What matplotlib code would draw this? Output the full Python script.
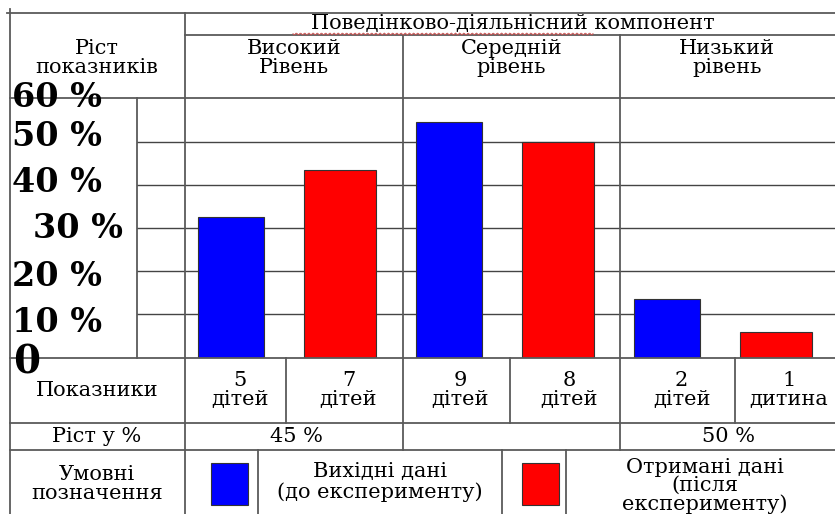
import matplotlib
matplotlib.use('Agg')
import matplotlib.pyplot as plt
import numpy as np

# values (% of children)
levels = ['Високий\nРівень', 'Середній\nрівень', 'Низький\nрівень']
before = [32.5, 54.5, 13.5]   # вихідні дані
after = [43.5, 50.0, 6.0]     # отримані дані
count_before = ['5\nдітей', '9\nдітей', '2\nдітей']
count_after = ['7\nдітей', '8\nдітей', '1\nдитина']
growth = ['45 %', '', '50 %']
y_ticks = [50, 40, 30, 20, 10]
y_labels = ['60 %', '50 %', '40 %', '30 %', '20 %', '10 %', '0']

W, H = 835, 514
fig = plt.figure(figsize=(W / 100, H / 100), dpi=100)

# chart part of the table: x 137..835 px, y 98..358 px
ax = fig.add_axes([137 / W, 1 - 357.7 / H, (W - 137) / W, 259.4 / H])
pos = np.arange(len(levels)) * 2
ax.bar(pos, before, width=0.6, color='#0000ff', edgecolor='#333333', lw=0.8, zorder=3)
ax.bar(pos + 1, after, width=0.66, color='#ff0000', edgecolor='#333333', lw=0.8, zorder=3)
ax.set_xlim((137 - 231) / 109, (835 - 231) / 109)
ax.set_ylim(0, 60)
ax.set_yticks(y_ticks)
ax.yaxis.grid(True, color='#444444', lw=1)
ax.set_axisbelow(True)
ax.tick_params(left=False, bottom=False, labelleft=False, labelbottom=False)
ax.set_xticks([])
for s in ax.spines.values():
    s.set_visible(False)
ax.patch.set_alpha(0)

# table overlay in pixel coordinates
t = fig.add_axes([0, 0, 1, 1])
t.set_xlim(0, W)
t.set_ylim(H, 0)
t.axis('off')

lc = '#5a5a5a'
hlines = [(13, 7, W), (35, 185, W), (98.3, 10, W), (357.7, 10, W),
          (422.7, 10, W), (450, 10, W)]
vlines = [(10, 9, H), (137, 98.3, 357.7), (185, 13, H), (403, 35, 450), (620, 35, 450),
          (286, 357.7, 422.7), (510, 357.7, 422.7), (735, 357.7, 422.7),
          (258, 450, H), (502, 450, H), (566, 450, H)]
for y, x0, x1 in hlines:
    t.plot([x0, x1], [y, y], color=lc, lw=1.3)
for x, y0, y1 in vlines:
    t.plot([x, x], [y0, y1], color=lc, lw=1.3)

serif = 'DejaVu Serif'
fs = 15
kw = dict(family=serif, fontsize=fs, ha='center', va='center', linespacing=1.05)

t.text(97, 58, 'Ріст\nпоказників', **kw)
t.text(513, 24, 'Поведінково-діяльнісний компонент', **kw)
# spell-check underline
xs = np.linspace(293, 593, 300)
t.plot(xs, 34 + 0.9 * np.sin(xs * 1.5), color='#cc5555', lw=0.7)

col_centers = [294, 511.5, 727]
for c, lab in zip(col_centers, levels):
    t.text(c, 58, lab, **kw)

# y labels
ylab_pos = [(12, 97.5), (12, 136), (12, 182), (33, 229), (12, 276), (12, 322), (13, 363)]
for (x, y), lab in zip(ylab_pos, y_labels):
    t.text(x, y, lab, family=serif, fontweight='bold', fontsize=28 if lab == '0' else 24,
           ha='left', va='center')

# counts row
t.text(97, 390, 'Показники', **kw)
cells = [185, 286, 403, 510, 620, 735, 835]
counts = [v for pair in zip(count_before, count_after) for v in pair]
for i, lab in enumerate(counts):
    t.text((cells[i] + cells[i + 1]) / 2 + 4, 390, lab, **kw)

# growth row
t.text(97, 436, 'Ріст у %', **kw)
for c, lab in zip(col_centers, growth):
    t.text(c + 2, 436.5, lab, **kw)

# legend row
t.text(97, 484, 'Умовні\nпозначення', **kw)
t.add_patch(plt.Rectangle((211, 463), 37, 42, facecolor='#0000ff', edgecolor='#333333', lw=0.8))
t.add_patch(plt.Rectangle((522, 463), 37, 42, facecolor='#ff0000', edgecolor='#333333', lw=0.8))
t.text(380, 482, 'Вихідні дані\n(до експерименту)', **kw)
t.text(705, 486, 'Отримані дані\n(після\nексперименту)',
       family=serif, fontsize=fs, ha='center', va='center', linespacing=0.95)

fig.savefig('out.png', dpi=100)
